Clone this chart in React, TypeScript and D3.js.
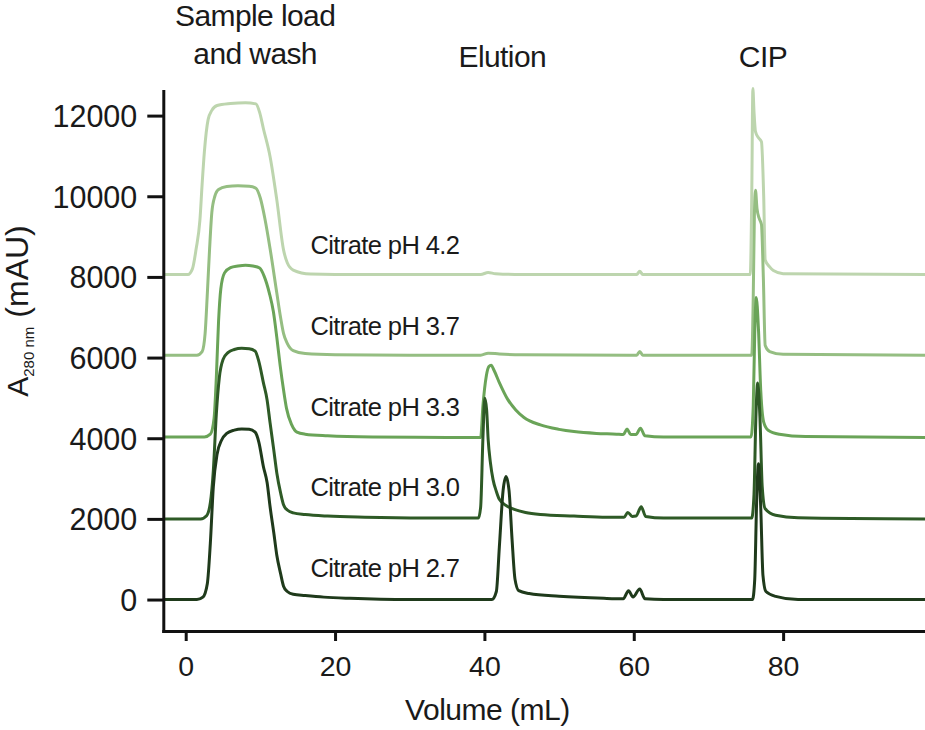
import * as d3 from 'd3';
import * as React from 'react';

const SVG_WIDTH = 925;
const SVG_HEIGHT = 730;

// [volume mL, A280 mAU], before the vertical offset
const ph27: [number, number][] = [
  [-3, 0], [1.5, 0], [2.3, 60], [2.9, 400], [3.3, 1400], [3.7, 2800], [4.2, 3600], [4.8, 3950],
  [5.5, 4120], [6.5, 4200], [7.5, 4230], [8.5, 4220], [9.3, 4150], [9.8, 3900], [10.4, 3300],
  [10.9, 2900], [11.3, 2300], [11.8, 1650], [12.2, 1100], [12.7, 650], [13.1, 330], [13.6, 200],
  [14.4, 130], [16, 100], [18.5, 60], [22, 30], [30, 0], [41.0, 0], [41.6, 200], [42.0, 1300],
  [42.5, 2700], [42.9, 3050], [43.3, 2700], [43.7, 1500], [44.1, 500], [44.6, 220], [46, 150],
  [50, 80], [56, 30], [58.6, 20], [59.3, 220], [59.9, 60], [60.8, 260], [61.5, 20], [64, 0],
  [75.9, 0], [76.2, 500], [76.45, 2400], [76.7, 3370], [77.0, 2300], [77.3, 600], [77.7, 200],
  [79, 80], [82, 0], [99, 0],
];
const ph30: [number, number][] = [
  [-3, 0], [2.0, 0], [2.8, 80], [3.3, 400], [3.7, 1200], [4.1, 2600], [4.5, 3500], [5.0, 3950],
  [5.7, 4130], [6.5, 4200], [7.5, 4230], [8.5, 4220], [9.3, 4160], [9.8, 3900], [10.4, 3380],
  [10.9, 2950], [11.3, 2380], [11.8, 1700], [12.2, 1140], [12.7, 650], [13.1, 350], [13.6, 220],
  [14.4, 150], [16, 110], [19, 70], [24, 40], [32, 20], [39.2, 20], [39.5, 300], [39.8, 2000],
  [40.05, 2990], [40.3, 2700], [40.5, 1975], [40.8, 1400], [41.15, 980], [41.6, 680], [42.0, 485],
  [43, 320], [44, 236], [45.5, 160], [47.5, 110], [52, 70], [56.4, 40], [58.7, 40], [59.2, 160],
  [59.8, 60], [60.3, 70], [61.0, 300], [61.6, 60], [64, 20], [75.8, 20], [76.1, 600],
  [76.35, 2500], [76.6, 3370], [76.9, 2500], [77.2, 800], [77.6, 250], [79, 90], [82, 30], [99, 0],
];
const ph33: [number, number][] = [
  [-3, 30], [2.5, 30], [3.3, 100], [3.8, 500], [4.1, 1500], [4.4, 2900], [4.7, 3700], [5.2, 4100],
  [6, 4230], [7, 4270], [8, 4290], [9, 4270], [9.9, 4220], [10.5, 4020], [11.2, 3600],
  [11.75, 3130], [12.2, 2500], [12.65, 1800], [13.1, 1200], [13.5, 740], [14.2, 330], [14.9, 150],
  [16, 100], [19, 60], [25, 30], [35, 20], [39.5, 20], [39.8, 800], [40.26, 1550], [40.6, 1780],
  [40.9, 1810], [41.3, 1680], [42.0, 1380], [43.1, 970], [44.2, 700], [45.3, 515], [47.5, 330],
  [50, 220], [52, 165], [55, 120], [57.7, 100], [58.6, 90], [59.1, 230], [59.6, 90], [60.3, 90],
  [60.9, 250], [61.5, 60], [64, 30], [75.7, 30], [76.0, 800], [76.2, 2600], [76.4, 3490],
  [76.7, 2700], [77.0, 1200], [77.4, 400], [78, 200], [79.5, 100], [83, 40], [99, 20],
];
const ph37: [number, number][] = [
  [-3, 60], [1.5, 60], [2.2, 150], [2.6, 600], [2.9, 1600], [3.2, 2700], [3.5, 3600], [3.9, 4000],
  [4.4, 4170], [5.5, 4240], [7, 4260], [8.5, 4250], [9.4, 4200], [10.0, 3950], [10.6, 3450],
  [11.3, 2700], [12.2, 1600], [12.7, 1000], [13.1, 600], [13.6, 350], [14.4, 170], [16, 100],
  [20, 70], [30, 60], [39.5, 60], [40.5, 110], [42, 90], [45, 70], [60.4, 60], [60.8, 150],
  [61.2, 60], [75.8, 60], [76.0, 1500], [76.15, 3500], [76.3, 4150], [76.5, 3700], [76.8, 3450],
  [77.1, 3300], [77.35, 2000], [77.6, 300], [78.2, 150], [80, 80], [99, 60],
];
const ph42: [number, number][] = [
  [-3, 60], [0.3, 60], [0.9, 200], [1.4, 700], [1.9, 1400], [2.2, 2300], [2.5, 3100], [3.0, 3900],
  [3.5, 4130], [4.2, 4250], [6, 4300], [8, 4320], [9.4, 4290], [9.9, 4080], [10.4, 3680],
  [11.3, 2980], [12.2, 1910], [13.1, 670], [13.6, 350], [14.4, 170], [16.7, 70], [20, 60],
  [39.5, 60], [40.5, 110], [41.5, 80], [45, 60], [60.4, 60], [60.8, 140], [61.2, 60], [75.6, 60],
  [75.8, 2000], [75.95, 4670], [76.1, 4100], [76.3, 3600], [76.7, 3450], [77.1, 3350],
  [77.4, 2000], [77.6, 420], [78.2, 250], [78.7, 157], [80, 80], [99, 60],
];

const traces = [ph27, ph30, ph33, ph37, ph42];
const offsets = [0, 2000, 4000, 6000, 8000];
const traceLabels = ['Citrate pH 2.7', 'Citrate pH 3.0', 'Citrate pH 3.3', 'Citrate pH 3.7', 'Citrate pH 4.2'];
const traceColors = ['#1f3a1b', '#2e5a26', '#6aa458', '#95be82', '#bdd5ae'];

const xTicks = [0, 20, 40, 60, 80];
const yTicks = [0, 2000, 4000, 6000, 8000, 10000, 12000];

const FONT = '"Liberation Sans", Arial, sans-serif';

const App = () => {
  const ref = React.useRef<SVGSVGElement>(null);

  React.useEffect(() => {
    const svg = d3.select(ref.current);
    svg.selectAll('*').remove();

    const x = d3.scaleLinear().domain([-3, 99]).range([163.3, 925]);
    const y = d3.scaleLinear().domain([-780, 12610]).range([631, 91]);

    const line = d3
      .line<[number, number]>()
      .x(d => x(d[0]))
      .y(d => y(d[1]))
      .curve(d3.curveMonotoneX);

    const plot = svg.append('g');
    // lightest trace at the back, darkest in front
    d3.range(traces.length)
      .reverse()
      .forEach(i => {
        plot
          .append('path')
          .attr('d', line(traces[i].map(([v, a]) => [v, a + offsets[i]] as [number, number])) as string)
          .attr('fill', 'none')
          .attr('stroke', traceColors[i])
          .attr('stroke-width', 3)
          .attr('stroke-linejoin', 'round');
      });

    traceLabels.forEach((t, i) => {
      svg
        .append('text')
        .attr('x', x(16.7))
        .attr('y', y(offsets[i] + 560))
        .attr('font-family', FONT)
        .attr('font-size', 25.5)
        .attr('letter-spacing', -0.6)
        .attr('fill', '#1a1a1a')
        .text(t);
    });

    const yAxis = svg
      .append('g')
      .attr('transform', `translate(${x(-3)},0)`)
      .call(
        d3.axisLeft(y).tickValues(yTicks).tickFormat(d3.format('d')).tickSize(16).tickSizeOuter(0).tickPadding(10)
      );
    const xAxis = svg
      .append('g')
      .attr('transform', `translate(0,${y(-780)})`)
      .call(d3.axisBottom(x).tickValues(xTicks).tickSize(10).tickSizeOuter(0).tickPadding(12));

    [yAxis, xAxis].forEach(g => {
      g.select('.domain').attr('stroke', '#111').attr('stroke-width', 3).attr('stroke-linecap', 'square');
      g.selectAll('.tick line').attr('stroke', '#111').attr('stroke-width', 3);
      g.selectAll('.tick text').attr('fill', '#1a1a1a').attr('font-family', FONT);
    });
    yAxis.selectAll('.tick text').attr('font-size', 30.5).attr('dy', '0.36em');
    xAxis.selectAll('.tick text').attr('font-size', 28.5).attr('dy', '0.8em');

    svg
      .append('text')
      .attr('x', x(40.4))
      .attr('y', 720)
      .attr('text-anchor', 'middle')
      .attr('font-family', FONT)
      .attr('font-size', 30)
      .attr('letter-spacing', -0.5)
      .attr('fill', '#1a1a1a')
      .text('Volume (mL)');

    const yLabel = svg
      .append('text')
      .attr('transform', 'translate(28,311) rotate(-90)')
      .attr('text-anchor', 'middle')
      .attr('font-family', FONT)
      .attr('font-size', 30)
      .attr('fill', '#1a1a1a');
    yLabel.append('tspan').text('A');
    yLabel.append('tspan').attr('font-size', 15).attr('dy', 6).text('280 nm');
    yLabel.append('tspan').attr('dy', -6).attr('dx', 9).attr('font-size', 32).text('(mAU)');

    const phases = [
      { lines: ['Sample load', 'and wash'], v: 9.3, y0: 26 },
      { lines: ['Elution'], v: 42.4, y0: 67 },
      { lines: ['CIP'], v: 77.3, y0: 67 },
    ];
    phases.forEach(p => {
      p.lines.forEach((l, j) => {
        svg
          .append('text')
          .attr('x', x(p.v))
          .attr('y', p.y0 + j * 38)
          .attr('text-anchor', 'middle')
          .attr('font-family', FONT)
          .attr('font-size', 30)
          .attr('letter-spacing', -0.6)
          .attr('fill', '#1a1a1a')
          .text(l);
      });
    });
  }, []);

  return (
    <svg
      ref={ref}
      width={SVG_WIDTH}
      height={SVG_HEIGHT}
      viewBox={`0 0 ${SVG_WIDTH} ${SVG_HEIGHT}`}
      style={{ position: 'absolute', left: 0, top: 0, background: '#fff' }}
    />
  );
};

export default App;
